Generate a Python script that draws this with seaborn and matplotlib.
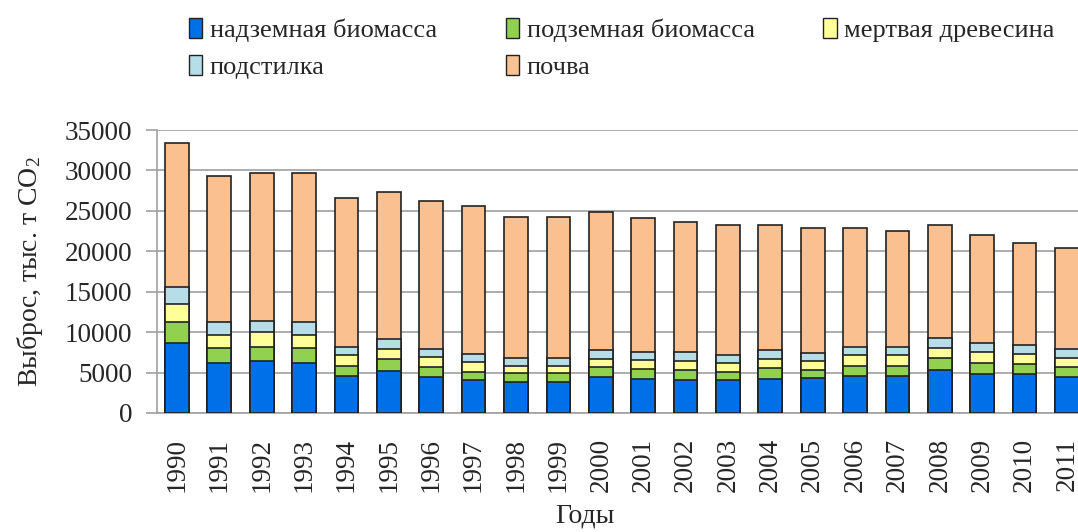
import matplotlib
matplotlib.use("Agg")
import matplotlib.pyplot as plt
import seaborn as sns
import numpy as np
import pandas as pd

years = [str(y) for y in range(1990, 2012)]
# emissions, thousand t CO2
above_ground = [8690, 6230, 6430, 6230, 4630, 5160, 4470, 4020, 3890, 3890, 4430,
                4260, 4100, 4100, 4260, 4300, 4630, 4630, 5330, 4800, 4800, 4470]
below_ground = [2540, 1760, 1720, 1800, 1230, 1480, 1230, 1110, 1070, 1070, 1230,
                1230, 1230, 1030, 1270, 1030, 1230, 1230, 1430, 1430, 1270, 1230]
dead_wood = [2300, 1640, 1840, 1640, 1270, 1230, 1270, 1150, 900, 900, 1070,
             1110, 1150, 1110, 1110, 1070, 1270, 1270, 1230, 1270, 1230, 1110]
litter = [2010, 1600, 1430, 1600, 1070, 1230, 900, 1070, 900, 900, 1110,
          940, 1070, 940, 1110, 1070, 1070, 1070, 1270, 1110, 1110, 1070]
soil = [17830, 18030, 18240, 18360, 18400, 18240, 18360, 18200, 17500, 17500, 17010,
        16560, 16030, 16030, 15450, 15410, 14710, 14340, 13940, 13360, 12660, 12500]

labels = ["надземная биомасса", "подземная биомасса", "мертвая древесина",
          "подстилка", "почва"]
colors = ["#0070E8", "#92D050", "#FFFF99", "#B7DDE8", "#FAC090"]

df = pd.DataFrame({"year": years, labels[0]: above_ground, labels[1]: below_ground,
                   labels[2]: dead_wood, labels[3]: litter, labels[4]: soil})
cum = df[labels].cumsum(axis=1)

sns.set_style("white")
plt.rcParams["font.family"] = ["Liberation Serif", "DejaVu Serif"]
plt.rcParams["mathtext.default"] = "regular"

fig = plt.figure(figsize=(10.78, 5.32), dpi=100)
ax = fig.add_axes([157 / 1078, 1 - 413 / 532, 1 - 157 / 1078, 283 / 532])

# stacked bars: draw cumulative totals from the top layer down
handles = []
for lab, col in reversed(list(zip(labels, colors))):
    sns.barplot(x=df["year"], y=cum[lab], color=col, saturation=1, width=0.56,
                edgecolor="#222222", linewidth=1.2, ax=ax, zorder=3)
for lab, col in zip(labels, colors):
    handles.append(plt.Rectangle((0, 0), 1, 1, facecolor=col, edgecolor="#222222", linewidth=1))

ax.set_ylim(0, 35000)
ax.set_yticks(np.arange(0, 35001, 5000))
ax.set_xlim(-0.47, 21.26)
ax.yaxis.grid(True, color="#a0a0a0", linewidth=1.2, zorder=0)
ax.set_axisbelow(True)
for s in ["top", "right"]:
    ax.spines[s].set_visible(False)
for s in ["left", "bottom"]:
    ax.spines[s].set_color("#a0a0a0")
    ax.spines[s].set_linewidth(1.2)
ax.tick_params(axis="y", length=8, color="#a0a0a0", width=1.2, labelsize=19.5, pad=10, left=True)
ax.tick_params(axis="x", length=0, labelsize=19.5, rotation=90, pad=18)

ax.set_xlabel("Годы", fontsize=20)
ax.set_ylabel("Выброс, тыс. т CO$_2$", fontsize=20)
ax.xaxis.set_label_coords((585 - 157) / 921, (413 - 503) / 283)
ax.yaxis.set_label_coords((45 - 157) / 921, 0.5)

order = [0, 3, 1, 4, 2]
fig.legend([handles[i] for i in order], [labels[i] for i in order],
           loc="upper left", bbox_to_anchor=(165 / 1078, 1.01), ncol=3, frameon=False,
           fontsize=19, handlelength=0.5, handleheight=0.75, handletextpad=0.3,
           columnspacing=2.6, labelspacing=0.5)

fig.savefig("out.png", dpi=100)
